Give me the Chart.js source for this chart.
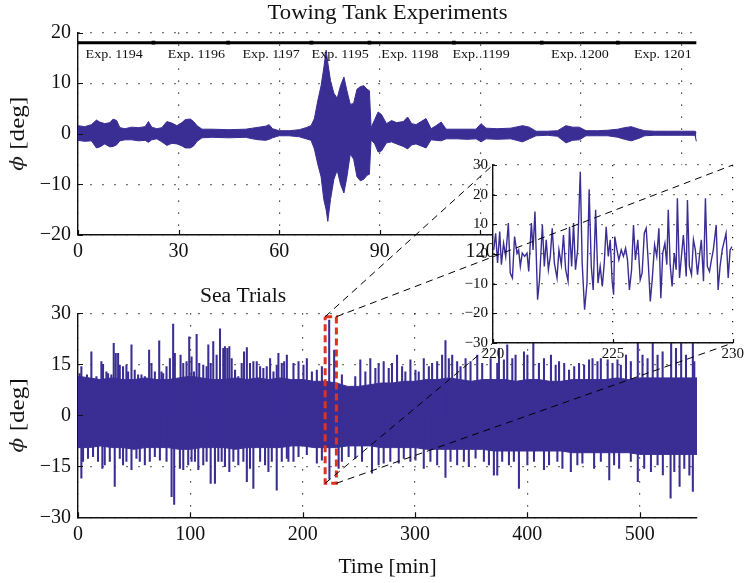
<!DOCTYPE html>
<html>
<head>
<meta charset="utf-8">
<title>Roll motion: towing tank and sea trials</title>
<script src="https://cdn.jsdelivr.net/npm/chart.js@4.4.1/dist/chart.umd.min.js"></script>
<style>
  html, body { margin: 0; padding: 0; background: #fff; }
  #wrap { position: relative; width: 746px; height: 583px; }
  #wrap canvas { position: absolute; left: 0; top: 0; }
</style>
</head>
<body>
<div id="wrap">
  <canvas id="tank" width="746" height="583"></canvas>
  <canvas id="sea" width="746" height="583"></canvas>
  <canvas id="zoom" width="746" height="583"></canvas>
</div>
<script>
// ---------- Towing tank: roll envelope (deg) over time (min) ----------
const tankTime  = [0, 2, 4, 5.5, 6.5, 8, 9.5, 10.5, 11.5, 12.5, 14, 16, 18, 20, 21, 22, 23.5, 25, 26.5, 28,
                   29.5, 31, 32, 33.5, 34.5, 35.5, 37, 40, 45, 50, 52, 54, 56, 57, 58, 60, 63, 66, 68, 69.5,
                   70.5, 71.5, 72.5, 73.3, 74, 74.5, 75.3, 76.3, 77.3, 78.3, 79.3, 80.2, 81.2, 82.2, 83.2, 84.2, 85.2, 86.2, 86.9, 87.4,
                   88.5, 89.5, 90.5, 92, 93.5, 95, 97, 98.3, 99.5, 100.8, 102.3, 103.8, 105.3, 106.8, 108.3, 109.8, 113, 116, 118.7, 120.2,
                   121.7, 125, 129, 132.6, 134.6, 136.6, 140, 143, 145.5, 147.5, 149.5, 151.5, 155, 158, 161, 163, 165, 167.3, 169, 172,
                   176, 180, 184, 184.4];
const tankUpper = [1.6, 1.4, 1.8, 2.7, 2.3, 2.0, 2.2, 2.9, 2.6, 1.2, 1.0, 1.3, 1.2, 1.4, 2.4, 1.3, 1.0, 1.2, 2.4, 2.1,
                   1.6, 2.2, 2.8, 2.9, 2.4, 1.6, 0.9, 0.9, 0.8, 0.9, 1.1, 1.3, 1.5, 1.8, 1.0, 0.6, 0.6, 0.8, 1.2, 1.6,
                   3.0, 6.5, 9.5, 13.0, 16.5, 14.0, 10.5, 8.0, 7.0, 9.5, 11.2, 8.5, 5.8, 6.0, 8.8, 9.3, 9.5, 8.8, 8.5, 1.2,
                   2.8, 4.3, 3.8, 2.0, 2.6, 2.2, 2.4, 3.3, 2.0, 1.8, 2.4, 3.0, 1.0, 1.6, 2.3, 0.9, 0.9, 0.9, 0.9, 2.0,
                   1.1, 1.0, 1.1, 1.6, 1.3, 0.5, 0.5, 0.6, 1.6, 1.3, 1.3, 0.6, 0.6, 0.7, 0.9, 1.2, 1.4, 0.9, 0.6, 0.5,
                   0.5, 0.5, 0.5, 0.3];
const tankLower = [-1.3, -1.5, -1.4, -2.8, -2.6, -2.0, -2.6, -2.5, -2.2, -1.4, -1.2, -1.2, -1.4, -1.3, -1.7, -1.2, -1.0, -1.6, -2.3, -1.9,
                   -2.0, -2.4, -2.8, -2.8, -2.4, -1.5, -0.8, -0.7, -0.8, -0.7, -1.0, -1.2, -1.3, -1.1, -0.8, -0.4, -0.4, -0.6, -1.0, -1.3,
                   -3.0, -6.0, -8.5, -13.0, -15.0, -17.3, -13.0, -9.0, -7.2, -10.0, -11.7, -8.5, -4.0, -5.0, -8.5, -9.3, -9.0, -8.2, -8.0, -1.2,
                   -2.0, -3.6, -3.4, -1.8, -1.6, -2.0, -2.5, -3.0, -2.2, -2.0, -2.4, -2.8, -1.2, -1.3, -1.4, -1.0, -1.0, -1.1, -1.0, -1.6,
                   -1.0, -1.1, -1.0, -1.6, -1.0, -0.4, -0.3, -0.5, -1.8, -1.3, -1.2, -0.4, -0.4, -0.4, -0.7, -1.1, -1.4, -0.9, -0.4, -0.3,
                   -0.3, -0.3, -0.3, -1.5];
const tankTicksX = [0, 30, 60, 90, 120, 150, 180];
const tankTicksY = [-20, -10, 0, 10, 20];

// Experiment runs along the top of the tank record
const expBounds    = [0, 22.5, 44.8, 69.6, 86.9, 112.1, 138.3, 161.0, 184.4];
const expNames     = ['Exp. 1194', 'Exp. 1196', 'Exp. 1197', 'Exp. 1195', 'Exp. 1198', 'Exp. 1199', 'Exp. 1200', 'Exp. 1201'];
const expLabelTime = [10.8, 35.3, 57.6, 78.2, 99.0, 120.2, 149.7, 174.4];
const expBarLevel   = 18;
const expLabelLevel = 15.6;

// ---------- Sea trials: dense roll band and the peaks sticking out of it ----------
const seaTime  = [0, 10, 20, 30, 40, 50, 60, 70, 80, 90, 100, 110, 120, 130, 140, 150, 160, 170, 180, 190,
                  200, 210, 220, 230, 240, 250, 260, 270, 280, 290, 300, 310, 320, 330, 340, 350, 360, 370, 380, 390,
                  400, 410, 420, 430, 440, 450, 460, 470, 480, 490, 500, 510, 520, 530, 540, 551];
const seaUpper = [11.5, 11, 10.5, 11, 10.5, 10.5, 11, 10.5, 10.5, 11, 11.5, 11, 10.5, 10.5, 11, 10.5, 11, 10.5, 11, 10.5,
                  10.5, 10, 10, 9.5, 8.5, 8.5, 9, 9.5, 9.5, 10, 10, 10.5, 10.5, 11, 10.5, 10, 10.5, 10.5, 10.5, 10,
                  10.5, 10.5, 10, 10, 10.5, 10.5, 10.5, 10.5, 11, 10.5, 11, 11, 11, 11, 11, 11];
const seaLower = [-9.5, -9.5, -9, -9.5, -9.5, -10, -9.5, -9.5, -9.5, -10, -10, -9.5, -9.5, -9.5, -10, -9.5, -9.5, -9.5, -9.5, -9,
                  -9, -9.5, -9.5, -9.5, -9, -9, -9, -9.5, -9.5, -9.5, -9.5, -10, -10, -10, -10, -10, -10, -10.5, -10.5, -10.5,
                  -10.5, -10.5, -10.5, -10.5, -11, -11, -11, -11, -11, -11, -11.5, -11.5, -11.5, -11.5, -11.5, -11.5];
const seaPeakTime  = [1.5, 3.0, 8.0, 11.9, 16.4, 20.8, 22.3, 25.3, 26.8, 29.7,
                      31.8, 33.6, 35.7, 37.2, 40.1, 43.1, 44.6, 47.6, 50.5, 53.5,
                      56.5, 59.5, 63.3, 65.4, 68.4, 72.3, 74.3, 75.8, 78.8, 81.8,
                      84.7, 86.2, 91.3, 93.7, 96.6, 99.0, 101.1, 103.2, 105.6, 107.9,
                      111.5, 114.5, 116.0, 118.1, 120.4, 123.4, 126.4, 129.3, 130.8, 132.9,
                      134.7, 136.8, 139.8, 142.7, 145.7, 147.8, 150.3, 153.1, 156.1, 159.1,
                      162.1, 165.0, 168.0, 171.0, 174.0, 176.9, 178.4, 181.4, 183.5, 185.9,
                      191.8, 196.3, 200.7, 203.7, 208.2, 212.6, 217.1, 223.6, 228.0, 234.9,
                      246.8, 251.3, 255.8, 260.2, 264.7, 267.6, 272.1, 276.6, 279.5, 284.0,
                      288.5, 291.4, 295.9, 300.4, 303.3, 307.8, 312.3, 315.2, 319.7, 324.1,
                      327.1, 330.1, 333.1, 337.5, 340.5, 345.0, 349.4, 355.4, 359.8, 367.3,
                      373.2, 374.7, 379.1, 382.1, 386.6, 389.5, 397.0, 400.0, 405.3, 410.3,
                      414.8, 421.0, 425.2, 428.2, 432.8, 437.1, 441.7, 446.0, 450.5, 454.9,
                      458.0, 462.4, 465.4, 471.5, 475.8, 480.2, 483.2, 487.8, 492.1, 498.3,
                      502.5, 507.0, 511.6, 515.9, 520.4, 528.0, 532.3, 536.9, 541.2, 547.3,
                      548.6];
const seaPeakValue = [12.3, 14.3, 11.9, 18.7, 11.4, 15.8, 15.0, 12.8, 12.3, 11.9,
                      21.2, 18.2, 18.2, 14.8, 14.3, 14.8, 12.8, 20.7, 13.3, 11.9,
                      11.9, 11.4, 19.2, 15.3, 12.8, 21.9, 12.8, 12.3, 14.3, 16.7,
                      26.8, 18.2, 17.7, 15.3, 15.8, 23.1, 17.2, 12.8, 23.8, 15.3,
                      14.8, 14.3, 20.7, 15.3, 21.7, 17.7, 25.4, 19.7, 20.2, 19.7,
                      20.2, 16.7, 13.3, 11.4, 15.3, 18.7, 19.9, 15.3, 15.8, 15.8,
                      14.3, 13.8, 14.3, 16.7, 12.8, 14.8, 18.2, 15.3, 15.8, 17.7,
                      15.3, 15.8, 14.8, 16.7, 12.8, 13.3, 14.3, 28.0, 19.2, 11.9,
                      11.4, 16.3, 12.8, 16.7, 13.8, 15.3, 15.8, 13.8, 15.3, 17.7,
                      14.3, 12.8, 16.3, 13.3, 12.8, 16.7, 14.3, 15.3, 15.8, 17.7,
                      22.0, 16.7, 17.7, 15.8, 14.3, 16.7, 15.8, 17.7, 15.3, 16.7,
                      15.3, 19.7, 16.3, 20.7, 16.7, 17.7, 18.7, 17.7, 22.0, 15.3,
                      16.7, 17.7, 14.8, 15.8, 15.3, 13.3, 14.3, 15.3, 14.8, 16.3,
                      16.7, 15.8, 16.7, 16.3, 15.3, 16.3, 14.8, 17.7, 15.8, 22.0,
                      17.7, 16.7, 22.0, 17.7, 18.7, 22.0, 19.7, 21.5, 17.7, 22.0,
                      15.8];
const seaDipTime   = [3.0, 4.5, 8.9, 13.4, 17.8, 21.7, 23.8, 28.3, 32.7, 37.2,
                      40.1, 43.1, 47.6, 52.0, 55.0, 59.5, 63.9, 68.4, 72.9, 78.8,
                      83.3, 85.6, 90.7, 93.7, 98.1, 101.1, 104.1, 107.1, 111.5, 114.5,
                      118.1, 121.9, 124.9, 127.9, 130.8, 134.7, 138.3, 142.7, 147.2, 150.3,
                      153.1, 156.1, 162.1, 166.5, 169.5, 172.5, 176.9, 181.4, 185.9, 187.3,
                      191.8, 196.3, 203.7, 212.6, 217.1, 223.8, 232.0, 234.9, 240.9, 246.8,
                      252.8, 261.7, 267.6, 272.1, 278.0, 285.5, 290.0, 295.9, 300.4, 307.8,
                      313.7, 319.7, 327.1, 331.6, 337.5, 343.5, 347.9, 353.9, 361.3, 365.8,
                      370.2, 373.2, 377.6, 383.6, 388.0, 392.5, 400.0, 405.9, 414.8, 419.3,
                      426.7, 431.2, 438.7, 444.5, 449.0, 459.4, 465.4, 472.9, 477.2, 481.7,
                      492.1, 498.3, 504.0, 510.0, 515.9, 520.6, 527.5, 530.8, 535.5, 539.7,
                      544.2, 547.3];
const seaDipValue  = [-18.5, -13.6, -12.7, -12.2, -13.6, -15.6, -14.6, -13.6, -20.9, -12.7,
                      -14.6, -13.6, -16.0, -12.7, -13.6, -14.6, -13.6, -12.2, -13.2, -13.6,
                      -23.9, -26.2, -15.6, -16.0, -14.6, -13.6, -13.6, -16.0, -14.6, -13.6,
                      -20.0, -20.0, -13.6, -13.6, -15.1, -16.6, -13.6, -14.6, -13.6, -19.5,
                      -15.6, -21.5, -13.6, -14.6, -16.6, -13.6, -22.0, -13.6, -12.7, -13.6,
                      -13.6, -12.2, -11.6, -14.1, -13.2, -18.8, -15.6, -13.6, -12.2, -12.7,
                      -13.6, -17.0, -14.6, -14.1, -13.6, -14.1, -12.7, -13.6, -13.2, -15.6,
                      -13.6, -14.6, -18.3, -13.6, -14.6, -13.6, -15.1, -12.6, -13.6, -14.6,
                      -17.6, -17.6, -13.6, -14.6, -13.6, -21.5, -14.6, -13.6, -16.0, -14.6,
                      -13.6, -15.6, -16.6, -14.6, -14.1, -15.6, -13.6, -19.0, -14.6, -15.6,
                      -13.6, -19.5, -15.6, -16.6, -14.6, -17.5, -24.4, -16.6, -20.9, -15.6,
                      -17.6, -22.4];
const seaTicksX = [0, 100, 200, 300, 400, 500];
const seaTicksY = [-30, -15, 0, 15, 30];

// Window that is enlarged in the inset
const zoomWindow = [220, 230];
const zoomBand   = [-20, 29];

// ---------- Inset: roll trace between 220 and 230 min ----------
const insetTime  = [220.03, 220.11, 220.19, 220.28, 220.35, 220.44, 220.53, 220.64, 220.72, 220.81,
                    220.90, 221.00, 221.07, 221.14, 221.22, 221.32, 221.42, 221.49, 221.60, 221.67,
                    221.75, 221.86, 221.94, 222.06, 222.14, 222.22, 222.31, 222.39, 222.47, 222.56,
                    222.67, 222.75, 222.85, 222.94, 223.03, 223.13, 223.19, 223.28, 223.36, 223.44,
                    223.53, 223.64, 223.72, 223.82, 223.92, 224.01, 224.10, 224.18, 224.28, 224.38,
                    224.47, 224.56, 224.64, 224.72, 224.81, 224.89, 224.97, 225.03, 225.08, 225.17,
                    225.25, 225.35, 225.44, 225.53, 225.61, 225.69, 225.78, 225.86, 225.94, 226.04,
                    226.14, 226.22, 226.31, 226.39, 226.47, 226.56, 226.64, 226.74, 226.83, 226.92,
                    227.00, 227.08, 227.17, 227.25, 227.31, 227.39, 227.47, 227.56, 227.64, 227.69,
                    227.78, 227.86, 227.94, 228.06, 228.11, 228.19, 228.28, 228.36, 228.44, 228.53,
                    228.61, 228.69, 228.78, 228.86, 228.94, 229.03, 229.11, 229.19, 229.31, 229.39,
                    229.47, 229.56, 229.64, 229.72, 229.81, 229.89, 229.97];
const insetValue = [1.4, 7.0, -3.0, 7.6, -3.6, 3.6, -0.8, 10.4, -6.4, -8.1,
                    5.9, 0.3, 1.4, -4.2, 0.3, -0.8, 0.3, -5.9, 10.4, 1.4,
                    14.3, -15.4, -8.7, 9.8, -4.2, 4.8, -5.3, -0.8, 8.7, -3.1,
                    -8.1, 1.4, -3.6, 6.4, -5.3, -9.2, 9.2, -4.2, 10.4, -5.3,
                    1.4, 27.7, -3.1, -18.8, -9.8, 21.8, -4.2, -12.1, 14.9, -9.8,
                    -4.2, -10.9, -3.1, 9.2, -0.8, 4.8, -9.2, -13.7, 5.9, 1.4,
                    -2.0, 1.4, -0.8, 2.0, -2.0, -12.1, -5.3, 9.8, -2.0, 4.8,
                    -8.7, -6.4, 7.0, 8.7, -2.0, -16.0, -8.7, 3.1, -0.8, 8.7,
                    -14.9, 0.3, 3.6, -3.6, 14.9, -3.6, -10.9, 0.3, -5.3, 18.8,
                    -8.1, -0.8, 6.4, -7.6, 18.2, -4.2, -7.0, 4.8, 1.4, -7.0,
                    -0.8, 4.8, -9.2, 18.8, -4.2, -5.9, -2.0, 1.4, 9.8, -12.1,
                    -4.2, 1.4, 4.2, 7.0, -8.1, 1.4, 2.5];
const insetTicksX = [220, 225, 230];
const insetTicksY = [-30, -20, -10, 0, 10, 20, 30];
const insetRangeY = [-30, 30];

// ---------- shared styling ----------
const SERIF = '"Liberation Serif", "Times New Roman", serif';
const PHI_FONT = '"DejaVu Serif", serif';
const INK = '#3a2d94';
const W = 746, H = 583;

Chart.defaults.font.family = SERIF;

const fmt = v => (v < 0 ? '\u2212' + Math.abs(v) : String(v));
const pts = (xs, ys) => xs.map((x, i) => ({ x, y: ys[i] }));

function axis(min, max, ticks, fontSize, thickness, pad) {
  return {
    type: 'linear', min, max, offset: false,
    afterBuildTicks(s) { s.ticks = ticks.map(v => ({ value: v })); },
    afterFit(s) { if (s.isHorizontal()) s.height = thickness; else s.width = thickness; },
    grid: { color: '#1c1c1c', lineWidth: 1.2, drawTicks: false, offset: false },
    border: { display: true, color: '#111', width: 1.4, dash: [1.2, 10.8] },
    ticks: { color: '#111', padding: pad, autoSkip: false, maxRotation: 0,
             font: { family: SERIF, size: fontSize }, callback: v => fmt(v) }
  };
}

// padding that puts the plot area at the given box, with fixed axis sizes
function frame(box, yThick, xThick) {
  return { padding: { left: box.left - yThick, top: box.top, right: W - box.right, bottom: H - box.bottom - xThick } };
}

function baseOptions(box, scales) {
  return {
    responsive: false, animation: false, devicePixelRatio: 1, events: [],
    layout: frame(box, 60, 30),
    plugins: { legend: { display: false }, tooltip: { enabled: false }, title: { display: false } },
    scales
  };
}

function innerTicks(chart, len) {
  const { ctx, chartArea: a, scales: { x, y } } = chart;
  ctx.save();
  ctx.strokeStyle = '#111';
  ctx.lineWidth = 1.2;
  ctx.beginPath();
  x.ticks.forEach(t => {
    const px = Math.round(x.getPixelForValue(t.value)) + 0.5;
    ctx.moveTo(px, a.bottom); ctx.lineTo(px, a.bottom - len);
  });
  y.ticks.forEach(t => {
    const py = Math.round(y.getPixelForValue(t.value)) + 0.5;
    ctx.moveTo(a.left, py); ctx.lineTo(a.left + len, py);
  });
  ctx.stroke();
  ctx.restore();
}

// text with a slight horizontal stretch, closer to the wide TeX roman face
function text(ctx, str, x, y, size, stretch) {
  ctx.save();
  ctx.translate(x, y);
  ctx.scale(stretch || 1, 1);
  ctx.font = size + 'px ' + SERIF;
  ctx.fillStyle = '#111';
  ctx.textAlign = 'center';
  ctx.textBaseline = 'middle';
  ctx.fillText(str, 0, 0);
  ctx.restore();
}

function rollTitle(ctx, cx, cy, size, stretch) {
  ctx.save();
  ctx.translate(cx, cy);
  ctx.rotate(-Math.PI / 2);
  ctx.scale(stretch, 1);
  const f1 = 'italic ' + (size - 3) + 'px ' + PHI_FONT, f2 = size + 'px ' + SERIF;
  ctx.font = f1; const w1 = ctx.measureText('\u03D5').width;
  ctx.font = f2; const w2 = ctx.measureText(' [deg]').width;
  const x0 = -(w1 + w2) / 2;
  ctx.fillStyle = '#222';
  ctx.textAlign = 'left';
  ctx.textBaseline = 'middle';
  ctx.font = f1; ctx.fillText('\u03D5', x0, 0);
  ctx.fillStyle = '#111';
  ctx.font = f2; ctx.fillText(' [deg]', x0 + w1, 0);
  ctx.restore();
}

// ---------- towing tank chart ----------
const tankBox = { left: 78, top: 32.5, right: 697, bottom: 235 };
new Chart(document.getElementById('tank'), {
  type: 'line',
  data: {
    datasets: [
      {
        data: pts(expBounds, expBounds.map(() => expBarLevel)),
        borderColor: '#000', borderWidth: 3, pointStyle: 'rect',
        pointRadius: c => (c.dataIndex > 0 && c.dataIndex < expBounds.length - 1 ? 2.6 : 0),
        pointBackgroundColor: '#000', pointBorderWidth: 0, fill: false
      },
      {
        data: pts(tankTime, tankUpper), borderColor: INK, backgroundColor: INK,
        borderWidth: 1, pointRadius: 0, fill: '+1'
      },
      {
        data: pts(tankTime, tankLower), borderColor: INK, borderWidth: 1, pointRadius: 0, fill: false
      }
    ]
  },
  options: baseOptions(tankBox, {
    x: axis(0, 184.6, tankTicksX, 20, 30, 5),
    y: axis(-20, 20, tankTicksY, 20, 60, 7)
  }),
  plugins: [{
    id: 'tankDecor',
    afterDraw(chart) {
      const { ctx, chartArea: a, scales: { x, y } } = chart;
      innerTicks(chart, 5);
      text(ctx, 'Towing Tank Experiments', (a.left + a.right) / 2, 13, 21, 1.08);
      rollTitle(ctx, 18, y.getPixelForValue(0), 21, 1.2);
      expNames.forEach((n, i) =>
        text(ctx, n, x.getPixelForValue(expLabelTime[i]), y.getPixelForValue(expLabelLevel), 13, 1.08));
    }
  }]
});

// ---------- sea trials chart ----------
const seaBox = { left: 78, top: 313.3, right: 697, bottom: 517.3 };
const seaChart = new Chart(document.getElementById('sea'), {
  type: 'line',
  data: {
    datasets: [
      {
        data: pts([zoomWindow[0], zoomWindow[1], zoomWindow[1], zoomWindow[0], zoomWindow[0]],
                  [zoomBand[1], zoomBand[1], zoomBand[0], zoomBand[0], zoomBand[1]]),
        borderColor: '#e2321f', borderWidth: 3, borderDash: [7, 4], pointRadius: 0, fill: false
      },
      {
        type: 'bar', data: seaPeakTime.map((t, i) => ({ x: t, y: [0, seaPeakValue[i]] })),
        backgroundColor: INK, borderWidth: 0, barThickness: 1.4, grouped: false
      },
      {
        type: 'bar', data: seaDipTime.map((t, i) => ({ x: t, y: [0, seaDipValue[i]] })),
        backgroundColor: INK, borderWidth: 0, barThickness: 1.4, grouped: false
      },
      {
        data: pts(seaTime, seaUpper), borderColor: INK, backgroundColor: INK,
        borderWidth: 1, pointRadius: 0, fill: '+1'
      },
      {
        data: pts(seaTime, seaLower), borderColor: INK, borderWidth: 1, pointRadius: 0, fill: false
      }
    ]
  },
  options: baseOptions(seaBox, {
    x: axis(0, 551, seaTicksX, 20, 30, 5),
    y: axis(-30, 30, seaTicksY, 20, 60, 7)
  }),
  plugins: [{
    id: 'seaDecor',
    afterDraw(chart) {
      const { ctx, chartArea: a, scales: { y } } = chart;
      innerTicks(chart, 5);
      text(ctx, 'Sea Trials', a.left + 165, 297, 20, 1.08);
      text(ctx, 'Time [min]', (a.left + a.right) / 2, 568, 20, 1.08);
      rollTitle(ctx, 18, y.getPixelForValue(0), 21, 1.2);
    }
  }]
});

// ---------- inset chart ----------
const insetBox = { left: 493, top: 165, right: 733, bottom: 343 };
new Chart(document.getElementById('zoom'), {
  type: 'line',
  data: {
    datasets: [{
      data: pts(insetTime, insetValue), borderColor: INK, borderWidth: 1.4, pointRadius: 0, fill: false
    }]
  },
  options: baseOptions(insetBox, {
    x: axis(zoomWindow[0], zoomWindow[1], insetTicksX, 15, 30, 2),
    y: axis(insetRangeY[0], insetRangeY[1], insetTicksY, 15, 60, 5)
  }),
  plugins: [{
    id: 'insetDecor',
    beforeDraw(chart) {
      const { ctx, chartArea: a } = chart;
      ctx.save();
      ctx.fillStyle = '#fff';
      ctx.fillRect(a.left, a.top, a.right - a.left, a.bottom - a.top);
      ctx.restore();
    },
    afterDraw(chart) {
      const { ctx, scales: { x: ix, y: iy } } = chart;
      const sx = seaChart.scales.x, sy = seaChart.scales.y;
      innerTicks(chart, 4);
      // dashed guides from the marked window to the inset corners
      const links = [
        [zoomWindow[0], zoomBand[1], zoomWindow[0], insetRangeY[1]],
        [zoomWindow[1], zoomBand[1], zoomWindow[1], insetRangeY[1]],
        [zoomWindow[0], zoomBand[0], zoomWindow[0], insetRangeY[0]],
        [zoomWindow[1], zoomBand[0], zoomWindow[1], insetRangeY[0]]
      ];
      ctx.save();
      ctx.strokeStyle = '#000';
      ctx.lineWidth = 1;
      ctx.setLineDash([7, 5]);
      links.forEach(([t0, v0, t1, v1]) => {
        ctx.beginPath();
        ctx.moveTo(sx.getPixelForValue(t0), sy.getPixelForValue(v0));
        ctx.lineTo(ix.getPixelForValue(t1), iy.getPixelForValue(v1));
        ctx.stroke();
      });
      ctx.restore();
    }
  }]
});
</script>
</body>
</html>
